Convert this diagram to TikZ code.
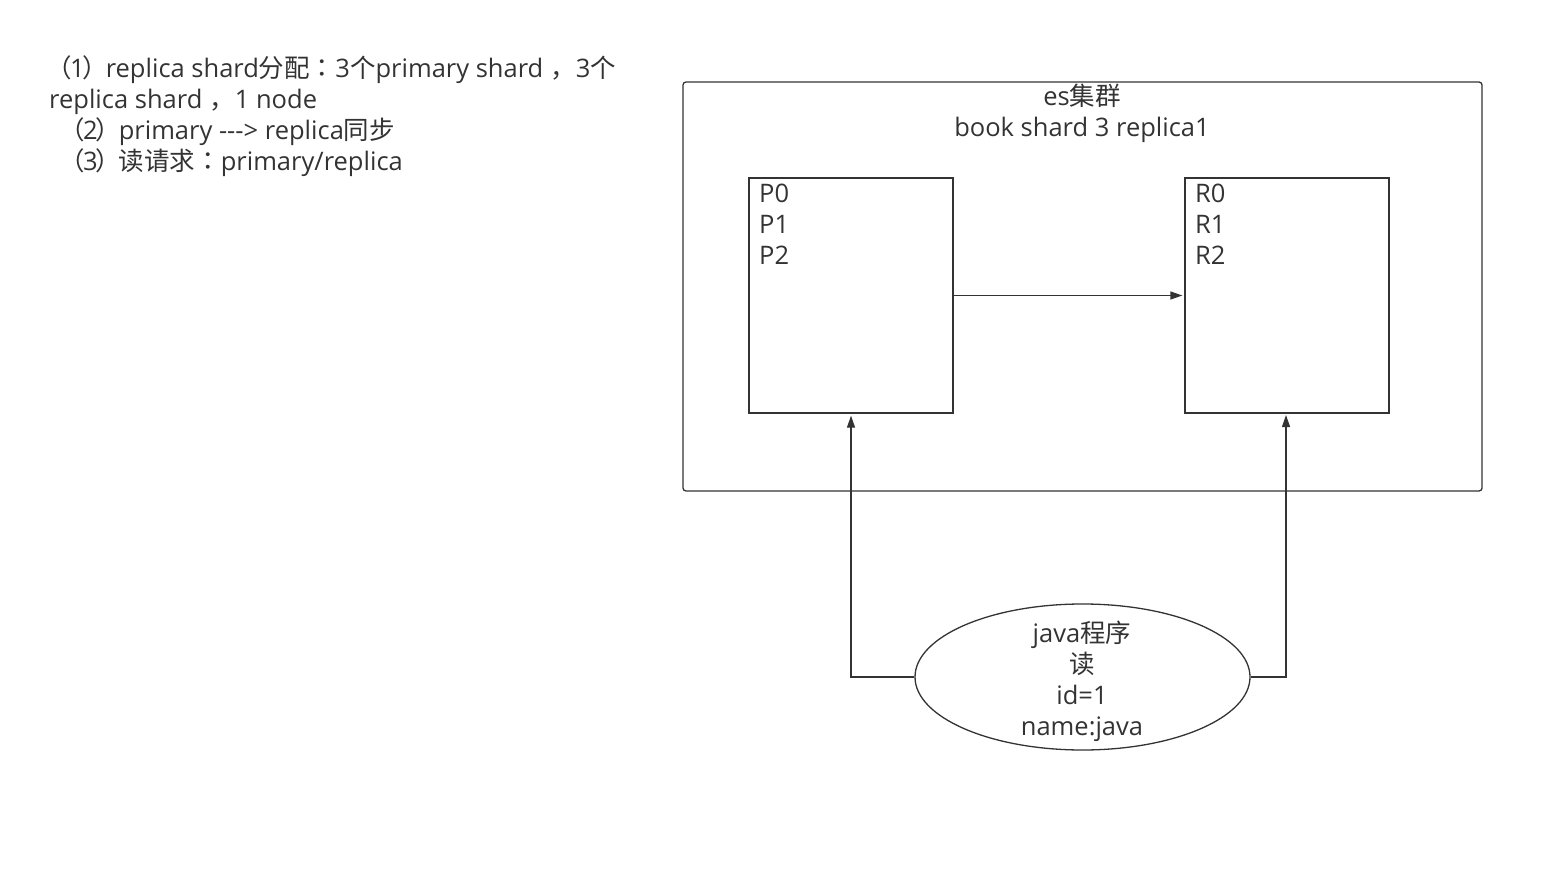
\documentclass[tikz,border=0pt]{standalone}
\usepackage{fontspec}
\setmainfont{Open Sans}
\newfontfamily\cjk{Noto Sans CJK SC}
\newfontfamily\cjkt{Noto Sans CJK TC}
\newcommand\mylp{\makebox[21pt][c]{\cjk （}}
\newcommand\myrp{\makebox[21pt][c]{\cjk ）}}
\newcommand\mycolon{{\cjkt ：}}
\newcommand\mycomma{{\kern7pt{\cjk ，}}}
\usetikzlibrary{arrows.meta,shapes.geometric}
\definecolor{ink}{HTML}{333333}
\begin{document}
\begin{tikzpicture}[x=1pt,y=-1pt,
  txt/.style={inner sep=0pt,font=\fontsize{25.5}{31}\selectfont,text=ink},
  frame/.style={draw=ink,line width=1.3pt},
  conn/.style={draw=ink,line width=1.3pt,-{Triangle[length=12pt,width=8pt]},shorten >=2pt}]
\useasboundingbox (0,0) rectangle (1544,882);
% notes
\node[txt,anchor=base west] (l1) at (49,78) {\mylp 1\myrp replica shard{\cjk 分配}\mycolon 3{\cjk 个}primary shard\mycomma 3{\cjk 个}};
\node[txt,anchor=base west] (l2) at (49,109) {replica shard\mycomma 1 node};
\node[txt,anchor=base west] (l3) at (62,140) {\mylp 2\myrp primary {-}{-}{-}> replica{\cjk 同步}};
\node[txt,anchor=base west] (l4) at (62,171) {\mylp 3\myrp{\cjk 读请求}\mycolon primary/replica};
% cluster
\draw[frame,rounded corners=3pt] (683,82) rectangle (1482,491);
\node[txt,anchor=base] (t1) at (1082,106) {es{\cjk 集群}};
\node[txt,anchor=base] (t2) at (1082,137) {book shard 3 replica1};
% boxes
\node[frame,minimum width=204pt,minimum height=235pt,inner sep=0pt] (P) at (851,295.5) {};
\node[frame,minimum width=204pt,minimum height=235pt,inner sep=0pt] (R) at (1287,295.5) {};
\node[txt,anchor=base west] (p0) at (759,203) {P0};
\node[txt,anchor=base west] (p1) at (759,234) {P1};
\node[txt,anchor=base west] (p2) at (759,265) {P2};
\node[txt,anchor=base west] (r0) at (1195,203) {R0};
\node[txt,anchor=base west] (r1) at (1195,234) {R1};
\node[txt,anchor=base west] (r2) at (1195,265) {R2};
\draw[conn] (P.east) -- (R.west);
% ellipse
\node[frame,ellipse,minimum width=335pt,minimum height=146pt,inner sep=0pt] (J) at (1082.5,677) {};
\node[txt,anchor=base] (j1) at (1082,642) {java{\cjk 程序}};
\node[txt,anchor=base] (j2) at (1082,673) {{\cjk 读}};
\node[txt,anchor=base] (j3) at (1082,704) {id=1};
\node[txt,anchor=base] (j4) at (1082,735) {name:java};
\draw[conn] (J.west) -- (851,677) -- (P.south);
\draw[conn] (J.east) -- (1286,677) -- (1286,413);
\end{tikzpicture}
\end{document}
